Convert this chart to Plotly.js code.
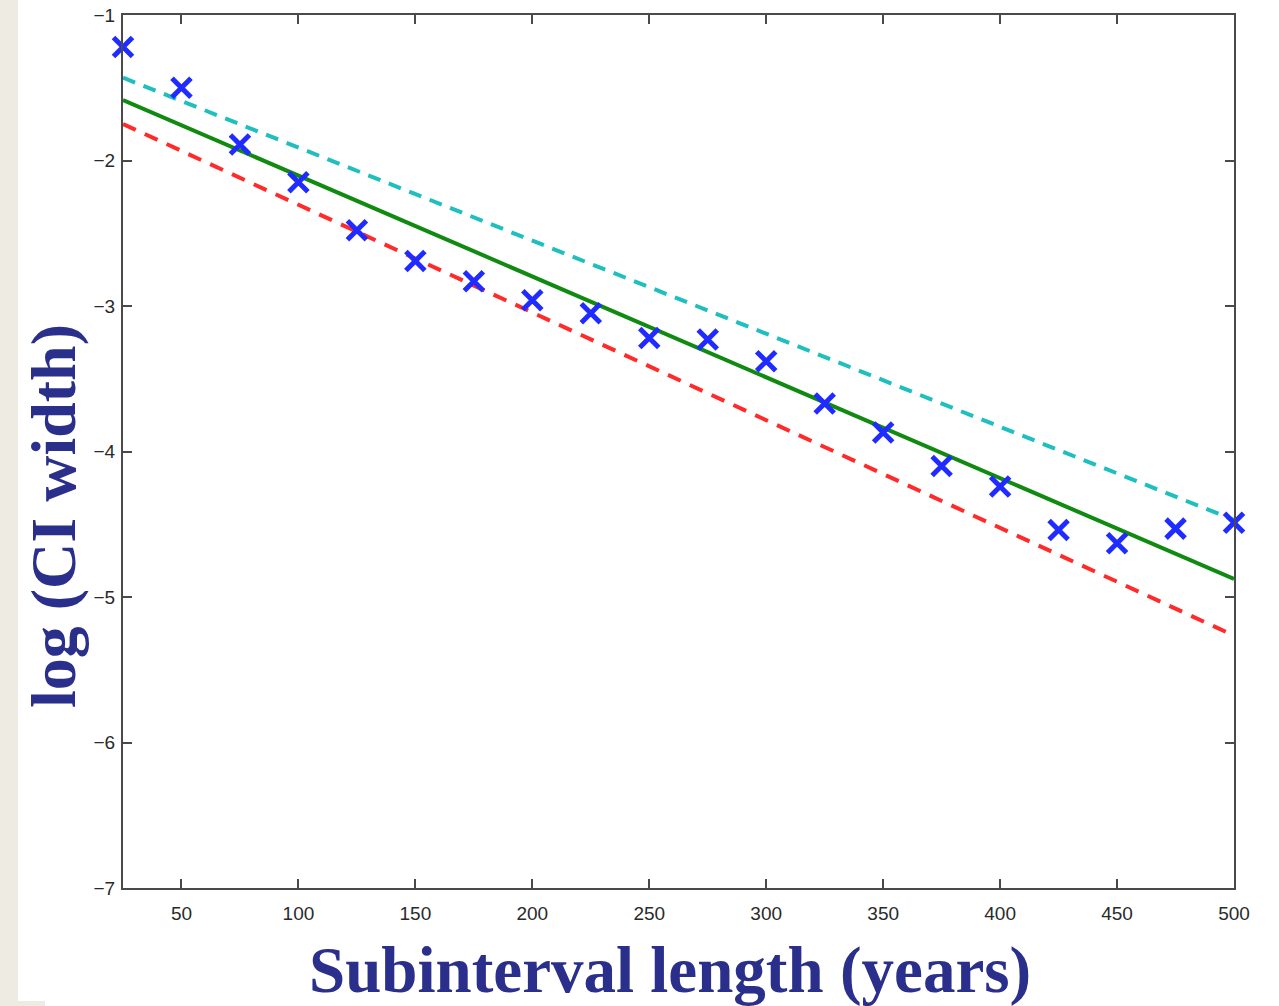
<!DOCTYPE html>
<html>
<head>
<meta charset="utf-8">
<script src="https://cdn.plot.ly/plotly-3.0.1.min.js"></script>
<style>
  html, body { margin: 0; padding: 0; background: #ffffff; width: 1279px; height: 1006px; overflow: hidden; }
  #chart { position: absolute; left: 0; top: 0; width: 1279px; height: 1006px; }
</style>
</head>
<body>
<div id="chart"></div>
<script>
// Subinterval lengths (years)
const subintervalLength = [25, 50, 75, 100, 125, 150, 175, 200, 225, 250, 275, 300, 325, 350, 375, 400, 425, 450, 475, 500];
// log(CI width) observed
const logCIWidth = [-1.22, -1.50, -1.89, -2.15, -2.48, -2.69, -2.83, -2.96, -3.05, -3.22, -3.23, -3.38, -3.67, -3.87, -4.10, -4.24, -4.54, -4.63, -4.53, -4.49];
// Fitted line endpoints
const fitX = [25, 500];
const fitCenter = [-1.584, -4.876];
const fitUpper = [-1.431, -4.47];
const fitLower = [-1.749, -5.265];
// Tick labels
const xTicks = [50, 100, 150, 200, 250, 300, 350, 400, 450, 500];
const yTicks = [-7, -6, -5, -4, -3, -2, -1];

const W = 1279, H = 1006;
const M = { l: 123, r: 45, t: 15, b: 118 };
const PW = W - M.l - M.r, PH = H - M.t - M.b;
const px = v => (v - M.l) / PW;          // page x -> paper x
const py = v => (H - M.b - v) / PH;      // page y -> paper y

const traces = [
  { x: fitX, y: fitUpper, mode: 'lines', line: { color: '#1fbfbf', width: 4, dash: '13px,9px' }, showlegend: false, hoverinfo: 'skip' },
  { x: fitX, y: fitLower, mode: 'lines', line: { color: '#ff2a2a', width: 4, dash: '14px,10px' }, showlegend: false, hoverinfo: 'skip' },
  { x: fitX, y: fitCenter, mode: 'lines', line: { color: '#108a10', width: 4 }, showlegend: false, hoverinfo: 'skip' },
  { x: subintervalLength, y: logCIWidth, mode: 'markers', cliponaxis: false,
    marker: { symbol: 'x-thin', size: 19, color: '#1f2bff', line: { color: '#1f2bff', width: 5 } }, showlegend: false }
];

const axisCommon = {
  showline: true, linecolor: '#4a4a4a', linewidth: 2, mirror: 'ticks',
  ticks: 'inside', ticklen: 9, tickwidth: 2, tickcolor: '#4a4a4a',
  showgrid: false, zeroline: false,
  tickfont: { family: 'Liberation Sans, Arial, sans-serif', size: 19, color: '#2a2a2a' }
};

const layout = {
  width: W, height: H,
  margin: M,
  paper_bgcolor: '#ffffff', plot_bgcolor: '#ffffff',
  xaxis: Object.assign({}, axisCommon, { range: [25, 500], tickvals: xTicks, ticktext: xTicks.map(String), ticklabelstandoff: 7 }),
  yaxis: Object.assign({}, axisCommon, { range: [-7, -1], tickvals: yTicks, ticklabelstandoff: 2 }),
  shapes: [
    { type: 'rect', xref: 'paper', yref: 'paper', layer: 'below', line: { width: 0 }, fillcolor: '#EEEBE3',
      x0: px(0), x1: px(18), y0: py(H), y1: py(0) },
    { type: 'rect', xref: 'paper', yref: 'paper', layer: 'below', line: { width: 0 }, fillcolor: '#EEEBE3',
      x0: px(0), x1: px(45), y0: py(H), y1: py(1001) }
  ],
  annotations: [
    { text: '<b>Subinterval length (years)</b>', xref: 'paper', yref: 'paper', x: px(670), y: py(970),
      xanchor: 'center', yanchor: 'middle', showarrow: false,
      font: { family: 'Liberation Serif, serif', size: 65, color: '#2a2f8c' } },
    { text: '<b>log (CI width)</b>', xref: 'paper', yref: 'paper', x: px(53), y: py(516),
      xanchor: 'center', yanchor: 'middle', showarrow: false, textangle: -90,
      font: { family: 'Liberation Serif, serif', size: 64, color: '#2a2f8c' } }
  ]
};

Plotly.newPlot('chart', traces, layout, { displayModeBar: false, staticPlot: true });
</script>
</body>
</html>
